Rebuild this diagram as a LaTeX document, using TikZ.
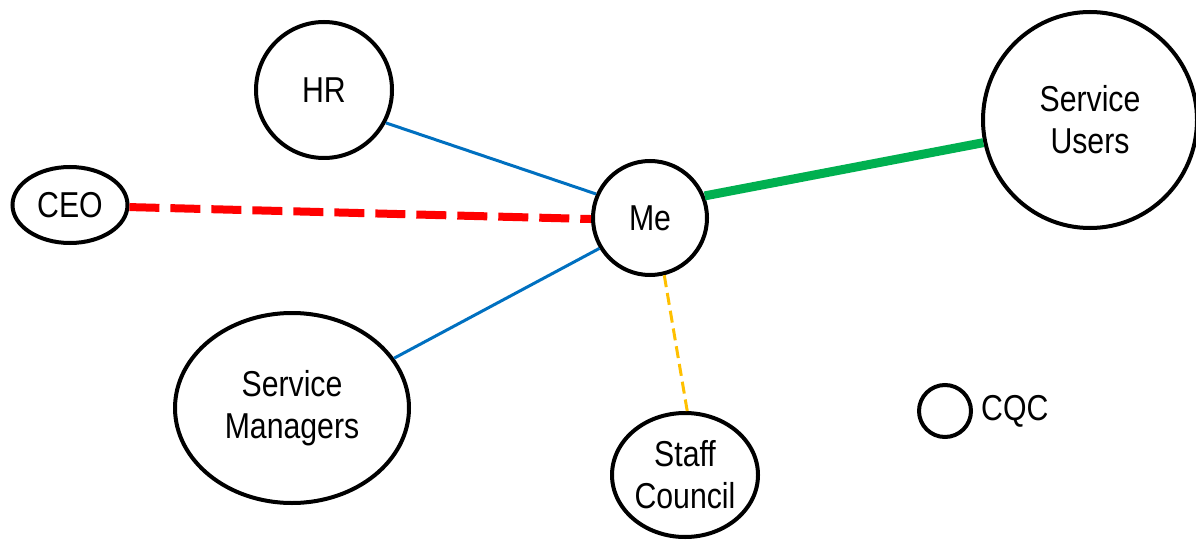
\documentclass[tikz,border=0pt]{standalone}
\usepackage{fontspec}
\setmainfont{Liberation Sans}[FakeStretch=0.84]
\usetikzlibrary{shapes.geometric}
\definecolor{linkblue}{RGB}{0,112,192}
\definecolor{linkred}{RGB}{255,0,0}
\definecolor{linkgreen}{RGB}{0,176,80}
\definecolor{linkorange}{RGB}{255,192,0}
\tikzset{labelfont/.style={font=\fontsize{36}{42}\selectfont}}
\begin{document}
\begin{tikzpicture}[x=1pt,y=-1pt,
  party/.style={ellipse,draw=black,line width=4pt,inner sep=0pt,
    align=center,labelfont},
  thin link/.style={line width=3pt},
  thick link/.style={line width=9pt}]
\useasboundingbox (0,0) rectangle (1196,548);
% stakeholders
\node[party,minimum width=115,minimum height=76] (ceo) at (70,205) {CEO};
\node[party,minimum width=136,minimum height=136] (hr) at (324,90) {HR};
\node[party,minimum width=114,minimum height=114] (me) at (650,218) {Me};
\node[party,minimum width=214,minimum height=216] (users) at (1090,120) {Service\\Users};
\node[party,minimum width=234,minimum height=190] (mgrs) at (292,408) {Service\\Managers};
\node[party,minimum width=146,minimum height=124] (staff) at (685,475) {Staff\\Council};
\node[party,minimum width=52,minimum height=52] (cqc) at (945,411) {};
\node[labelfont,anchor=west,inner sep=0pt] (cqclabel) at (cqc.east) [xshift=8pt] {CQC};
% relationships
\draw[thin link,linkblue] (hr.-28) -- (me.156);
\draw[thin link,linkblue] (mgrs.26) -- (me.211);
\draw[line width=8pt,linkred,dash pattern=on 30pt off 11pt] (ceo.-2) -- (me.181);
\draw[thick link,linkgreen] (me.22) -- (users.192);
\draw[thin link,linkorange,dash pattern=on 12pt off 6pt] (me.-76) -- (staff.88);
\end{tikzpicture}
\end{document}
